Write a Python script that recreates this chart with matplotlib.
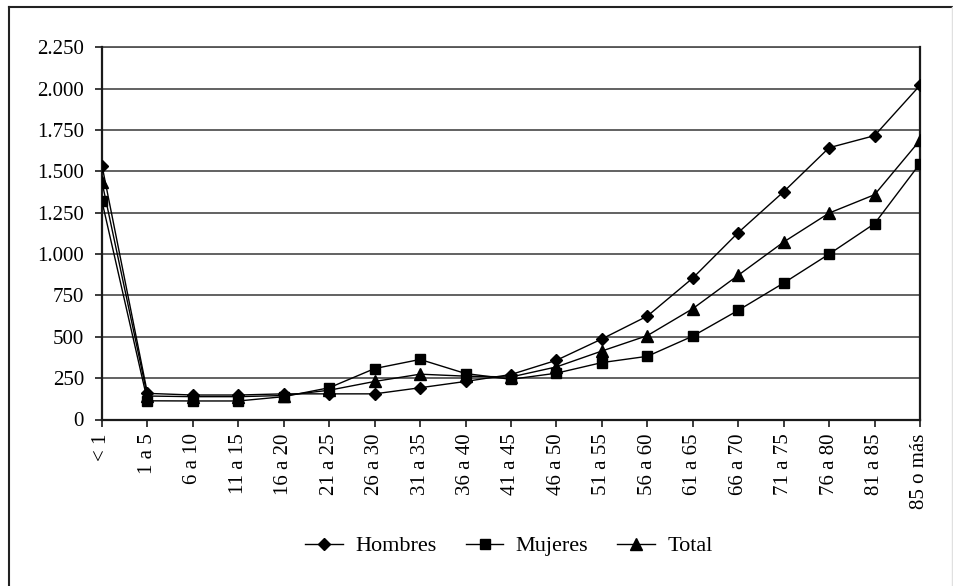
import matplotlib
matplotlib.use("Agg")
import matplotlib.pyplot as plt
from matplotlib.ticker import FuncFormatter, MultipleLocator
from matplotlib.lines import Line2D

plt.rcParams['font.family'] = ['Liberation Serif', 'DejaVu Serif']

categorias = ["< 1", "1 a 5", "6 a 10", "11 a 15", "16 a 20", "21 a 25", "26 a 30",
              "31 a 35", "36 a 40", "41 a 45", "46 a 50", "51 a 55", "56 a 60",
              "61 a 65", "66 a 70", "71 a 75", "76 a 80", "81 a 85", "85 o más"]
hombres = [1535, 158, 148, 148, 155, 155, 155, 192, 230, 272, 358, 487, 625,
           855, 1130, 1377, 1643, 1716, 2020]
mujeres = [1318, 113, 112, 112, 138, 192, 308, 363, 278, 243, 280, 344, 382,
           504, 660, 825, 1000, 1184, 1547]
total = [1435, 142, 138, 138, 145, 177, 230, 274, 262, 257, 318, 414, 507,
         670, 872, 1073, 1248, 1359, 1688]

fig = plt.figure(figsize=(9.54, 5.86), dpi=100)
ax = fig.add_axes([102 / 954, 1 - 419.5 / 586, (920 - 102) / 954, (419.5 - 47.3) / 586])

x = list(range(len(categorias)))
ax.plot(x, hombres, color='black', lw=1.0, marker='D', ms=6.5, label='Hombres', zorder=4)
ax.plot(x, mujeres, color='black', lw=1.0, marker='s', ms=7, label='Mujeres', zorder=4)
ax.plot(x, total, color='black', lw=1.0, marker='^', ms=8, label='Total', zorder=4)

ax.set_xlim(0, len(categorias) - 1)
ax.set_ylim(0, 2250)
ax.yaxis.set_major_locator(MultipleLocator(250))
ax.yaxis.set_major_formatter(FuncFormatter(lambda v, p: f"{int(v):,}".replace(",", ".")))
ax.set_xticks(x)
ax.set_xticklabels(categorias, rotation=90, va='top', ha='center')
ax.grid(axis='y', color='#555555', lw=1.3, zorder=1)
ax.set_axisbelow(True)
ax.spines['top'].set_visible(False)
for s in ('left', 'bottom', 'right'):
    ax.spines[s].set_linewidth(1.6)
    ax.spines[s].set_color('#1a1a1a')
ax.tick_params(axis='both', direction='out', length=5, width=1.2, color='#1a1a1a',
               labelsize=15, pad=5)
ax.tick_params(axis='y', pad=8)
# top gridline at the upper limit
ax.axhline(2250, color='#555555', lw=1.3, zorder=1, clip_on=False)

leg = fig.legend(loc='center', bbox_to_anchor=(509 / 954, 1 - 546 / 586), ncol=3,
                 frameon=False, fontsize=16, handlelength=1.7, columnspacing=1.3,
                 handletextpad=0.55)

# outer frame
fig.add_artist(Line2D([9 / 954, 9 / 954], [0, 1 - 7 / 586], transform=fig.transFigure,
                      color='#222222', lw=1.5))
fig.add_artist(Line2D([9 / 954, 953 / 954], [1 - 7 / 586, 1 - 7 / 586],
                      transform=fig.transFigure, color='#222222', lw=1.5))
fig.add_artist(Line2D([952.5 / 954, 952.5 / 954], [0, 1 - 7 / 586], transform=fig.transFigure,
                      color='#e0e0e0', lw=1.0))

fig.savefig('out.png', dpi=100)
